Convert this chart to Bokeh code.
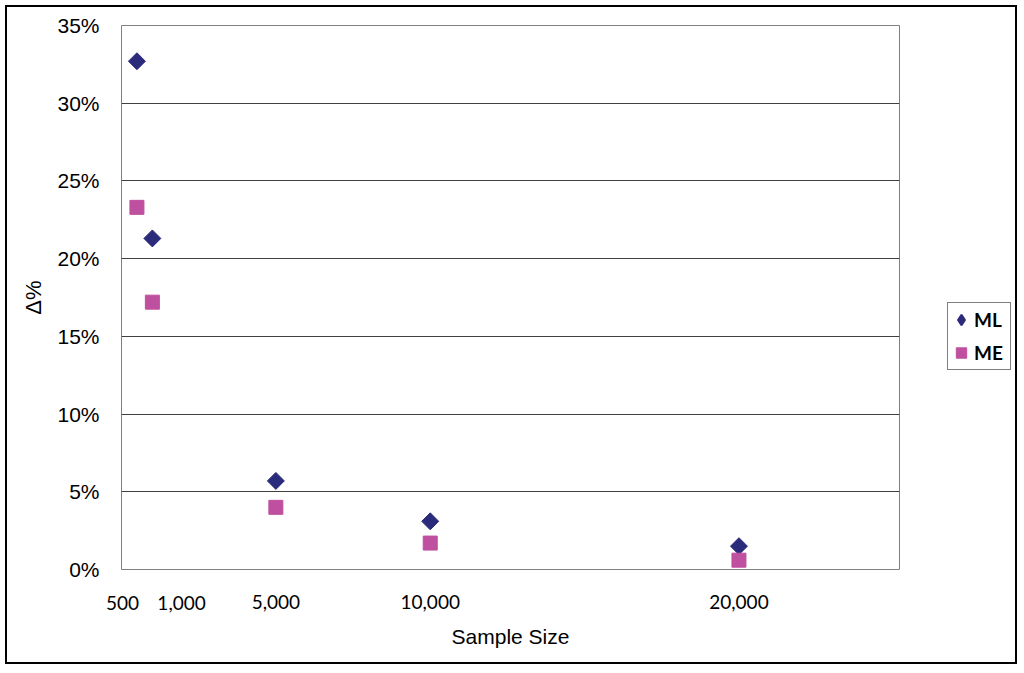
import math
from bokeh.plotting import figure
from bokeh.layouts import row
from bokeh.models import (ColumnDataSource, FixedTicker, NumeralTickFormatter,
                          Range1d, Legend, LegendItem, Label)
from bokeh.embed import file_html
from bokeh.resources import INLINE

sample_sizes = [500, 1000, 5000, 10000, 20000]
ml_values = [0.327, 0.213, 0.057, 0.031, 0.015]
me_values = [0.233, 0.172, 0.040, 0.017, 0.006]
y_ticks = [0.0, 0.05, 0.10, 0.15, 0.20, 0.25, 0.30, 0.35]
x_axis_ticks = [5000, 10000, 20000]
x_extra_ticks = [500, 1000]
x_extra_labels = ["500", "1,000"]

NAVY = "#2B2B7B"
PINK = "#BF4F9F"

p = figure(width=940, height=655, output_backend="svg", toolbar_location=None,
           x_range=Range1d(0, 25200), y_range=Range1d(0, 0.35),
           min_border_left=114, min_border_right=48, min_border_top=18,
           min_border_bottom=93)
p.margin = (2, 0, 2, 2)
p.styles = {"background-color": "#ffffff"}

p.outline_line_color = "#808080"
p.outline_line_width = 1
p.xgrid.visible = False
p.ygrid.grid_line_color = "#404040"
p.ygrid.grid_line_width = 1
p.ygrid.ticker = FixedTicker(ticks=y_ticks)

p.yaxis.ticker = FixedTicker(ticks=y_ticks)
p.yaxis.formatter = NumeralTickFormatter(format="0%")
p.yaxis.axis_line_color = None
p.yaxis.major_tick_line_color = None
p.yaxis.minor_tick_line_color = None
p.yaxis.major_label_text_font = "Liberation Sans"
p.yaxis.major_label_text_font_size = "21px"
p.yaxis.major_label_text_color = "#000000"
p.yaxis.major_label_standoff = 16
p.yaxis.axis_label = "Δ%"
p.yaxis.axis_label_text_font = "Liberation Sans"
p.yaxis.axis_label_text_font_size = "22px"
p.yaxis.axis_label_text_font_style = "normal"
p.yaxis.axis_label_text_color = "#000000"
p.yaxis.axis_label_standoff = 8

p.xaxis.ticker = FixedTicker(ticks=x_axis_ticks)
p.xaxis.formatter = NumeralTickFormatter(format="0,0")
p.xaxis.axis_line_color = None
p.xaxis.major_tick_line_color = None
p.xaxis.minor_tick_line_color = None
p.xaxis.major_label_text_font = "Lato"
p.xaxis.major_label_text_font_size = "19px"
p.xaxis.major_label_text_color = "#000000"
p.xaxis.major_label_standoff = 19
p.xaxis.axis_label = "Sample Size"
p.xaxis.axis_label_text_font = "Liberation Sans"
p.xaxis.axis_label_text_font_size = "21px"
p.xaxis.axis_label_text_font_style = "normal"
p.xaxis.axis_label_text_color = "#000000"
p.xaxis.axis_label_standoff = 13

src = ColumnDataSource(dict(x=sample_sizes, ml=ml_values, me=me_values))
p.scatter("x", "ml", source=src, marker="square", angle=math.pi / 4,
          size=12, fill_color=NAVY, line_color=NAVY)
p.scatter("x", "me", source=src, marker="square", size=14,
          fill_color=PINK, line_color=PINK)

# the two crowded tick labels at 500 and 1,000 (side panels, not clipped)
panels = ["above", "right"]
for xv, txt, off, align, side in zip(x_extra_ticks, x_extra_labels, [2, 5],
                                     ["right", "left"], panels):
    p.add_layout(Label(x=xv, y=0, text=txt, x_offset=off, y_offset=-26,
                       text_align=align, text_baseline="top",
                       text_font="Lato", text_font_size="19px",
                       text_color="#000000"), side)

# legend area to the right of the chart
q = figure(width=68, height=655, output_backend="svg", toolbar_location=None,
           x_range=Range1d(0, 1), y_range=Range1d(0, 1),
           min_border_left=0, min_border_right=0, min_border_top=0,
           min_border_bottom=0)
q.margin = (2, 2, 2, 0)
q.styles = {"background-color": "#ffffff", "box-shadow": "-3px 0 0 0 #ffffff"}
q.axis.visible = False
q.grid.visible = False
q.outline_line_color = None
q.background_fill_color = "#ffffff"
q.border_fill_color = "#ffffff"
l_ml = q.scatter("x", "ml", source=src, marker="diamond", line_width=2,
                 fill_color=NAVY, line_color=NAVY)
l_me = q.scatter("x", "me", source=src, marker="square",
                 fill_color=PINK, line_color=PINK)
legend = Legend(items=[LegendItem(label="ML", renderers=[l_ml]),
                       LegendItem(label="ME", renderers=[l_me])],
                location=(0, 199))
legend.border_line_color = "#000000"
legend.border_line_width = 1
legend.label_text_font = "Lato"
legend.label_text_font_style = "bold"
legend.label_text_font_size = "19px"
legend.label_text_color = "#000000"
legend.glyph_width = 26
legend.glyph_height = 33
legend.label_standoff = 0
legend.label_width = 36
legend.spacing = 0
legend.padding = 0
legend.margin = 0
legend.background_fill_alpha = 1
q.add_layout(legend, "center")

layout = row(p, q)
layout.margin = 5
layout.styles = {"background-color": "#000000"}

open("out.html", "w").write(file_html(layout, INLINE))
